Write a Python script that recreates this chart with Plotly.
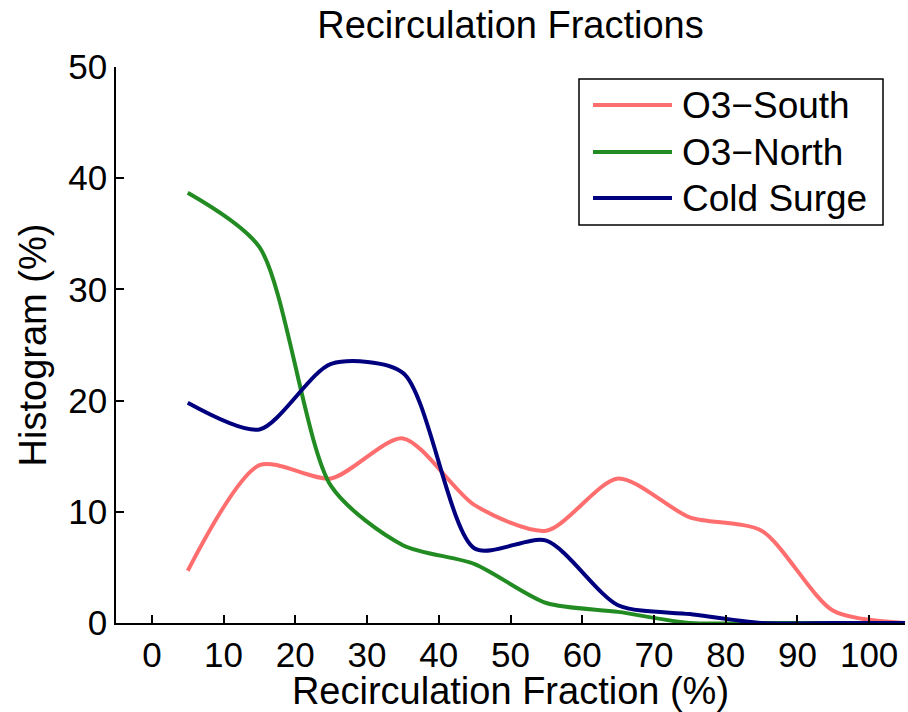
import plotly.graph_objects as go

x_vals = [5, 15, 25, 35, 45, 55, 65, 75, 85, 95, 105]
o3_south = [4.7, 14.2, 13.0, 16.6, 10.6, 8.3, 13.0, 9.5, 8.3, 1.1, 0.0]
o3_north = [38.7, 33.8, 12.3, 7.0, 5.3, 1.8, 1.0, 0.0, 0.0, 0.0, 0.0]
cold_surge = [19.8, 17.4, 23.3, 22.5, 6.7, 7.4, 1.6, 0.8, 0.0, 0.0, 0.0]

series_names = ["O3\u2212South", "O3\u2212North", "Cold Surge"]
series_colors = ["#FF6E6E", "#228B22", "#00007F"]
x_ticks = [0, 10, 20, 30, 40, 50, 60, 70, 80, 90, 100]
y_ticks = [0, 10, 20, 30, 40, 50]

FONT = "Liberation Sans, Arial, sans-serif"

# plot area in pixels (for converting legend layout to paper coords)
L, R, T, B = 116, 905, 67, 623
def px(xp):
    return (xp - L) / (R - L)
def py(yp):
    return (B - yp) / (B - T)

fig = go.Figure()
for name, vals, col in zip(series_names, [o3_south, o3_north, cold_surge], series_colors):
    fig.add_trace(go.Scatter(
        x=x_vals, y=vals, name=name, mode="lines",
        line=dict(color=col, width=4, shape="spline", smoothing=0.75),
        cliponaxis=False, showlegend=False,
    ))

# legend box drawn in paper coordinates
shapes = [dict(type="rect", xref="paper", yref="paper",
               x0=px(579), x1=px(883), y0=py(225), y1=py(79),
               line=dict(color="black", width=1.5), fillcolor="white", layer="above")]
annotations = []
row_y = [105, 152, 198]
for name, col, ry in zip(series_names, series_colors, row_y):
    shapes.append(dict(type="line", xref="paper", yref="paper",
                       x0=px(593), x1=px(672), y0=py(ry), y1=py(ry),
                       line=dict(color=col, width=4), layer="above"))
    annotations.append(dict(text=name, xref="paper", yref="paper",
                            x=px(680), y=py(ry), xanchor="left", yanchor="middle",
                            showarrow=False, font=dict(size=37, color="black")))

fig.update_layout(
    width=908, height=712,
    margin=dict(l=L, r=908 - R, t=T, b=712 - B),
    paper_bgcolor="white", plot_bgcolor="white",
    font=dict(family=FONT, size=35, color="black"),
    title=dict(text="Recirculation Fractions", x=0.5, xref="paper",
               y=0.965, yref="container", yanchor="middle",
               font=dict(size=38, color="black")),
    shapes=shapes,
    annotations=annotations,
    showlegend=False,
)
fig.update_xaxes(
    range=[-5, 105], tickvals=x_ticks, ticks="inside", ticklen=8, tickwidth=1.5,
    tickcolor="black", showline=True, linecolor="black", linewidth=1.5,
    showgrid=False, zeroline=False, mirror=False,
    title=dict(text="Recirculation Fraction (%)", standoff=4, font=dict(size=38)),
    tickfont=dict(size=35),
)
fig.update_yaxes(
    range=[0, 50], tickvals=y_ticks, ticks="inside", ticklen=8, tickwidth=1.5,
    tickcolor="black", showline=True, linecolor="black", linewidth=1.5,
    showgrid=False, zeroline=False, mirror=False,
    title=dict(text="Histogram (%)", standoff=10, font=dict(size=38)),
    tickfont=dict(size=35),
)

fig.write_html("out.html")
